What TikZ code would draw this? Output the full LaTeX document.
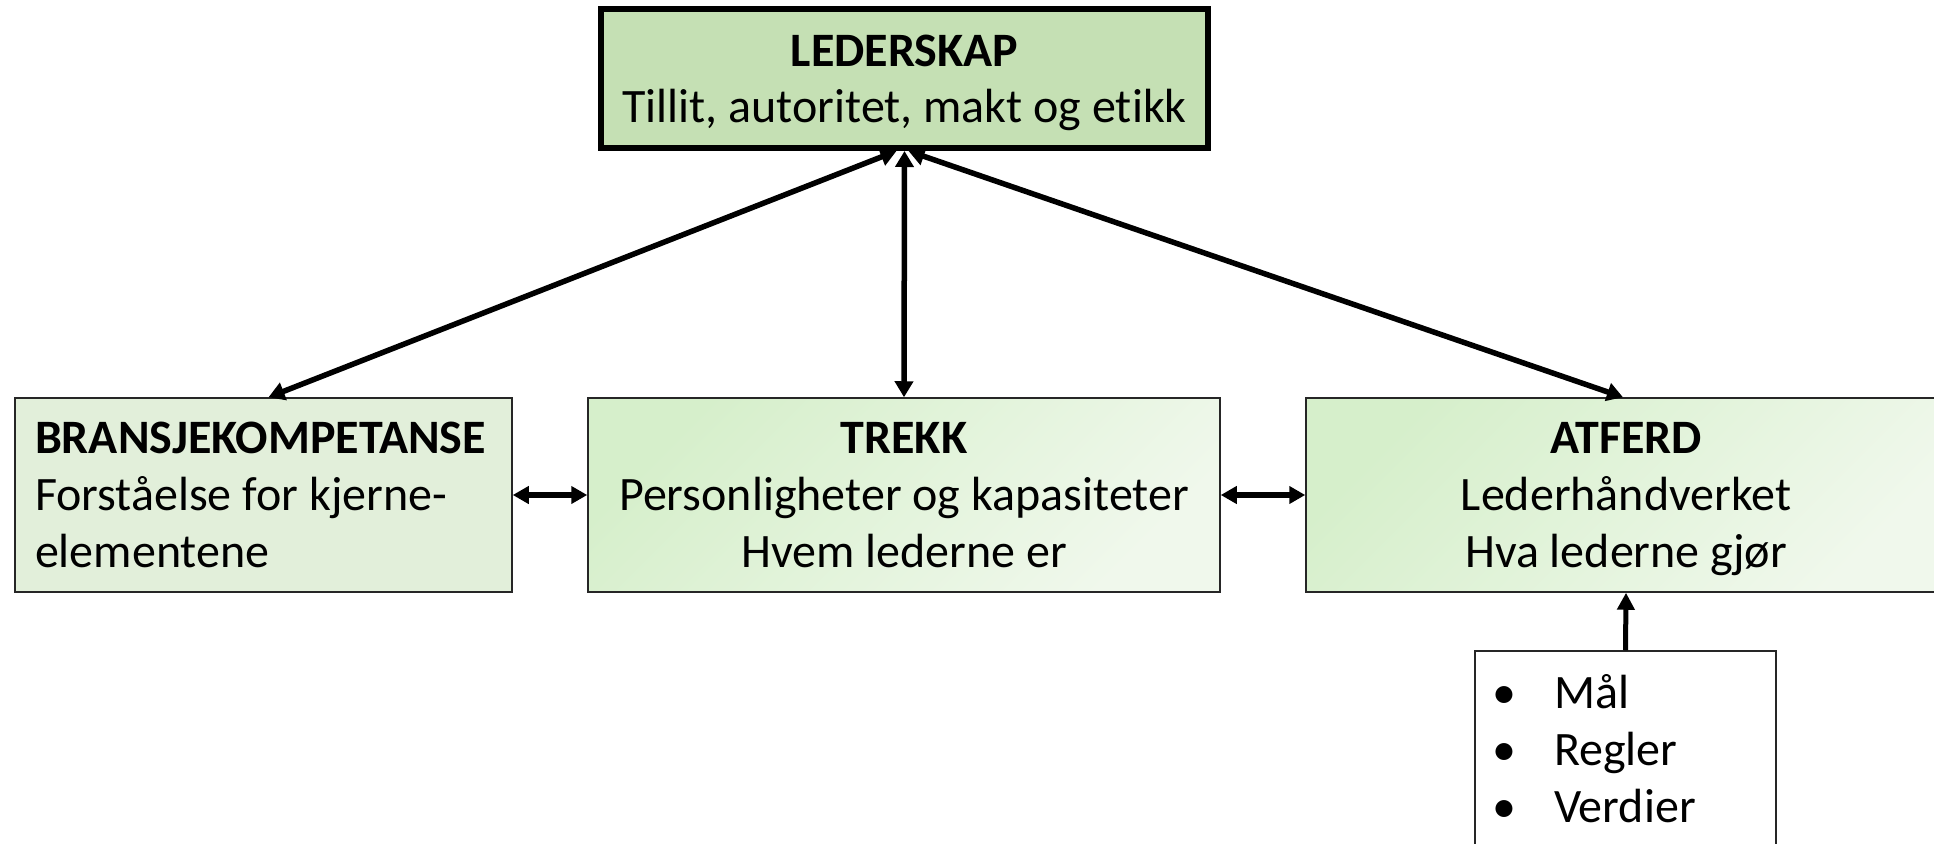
\documentclass[tikz,border=0pt]{standalone}
\usepackage{fontspec}
\setmainfont{Carlito}[RawFeature={-liga}]
\usetikzlibrary{arrows.meta,calc}
\definecolor{leadfill}{HTML}{C5E0B4}
\definecolor{branfill}{HTML}{E2EFDA}
\definecolor{gradA}{HTML}{D6EFCB}
\definecolor{gradB}{HTML}{F0F8EC}
\definecolor{edge}{HTML}{262626}
\tikzset{
  box/.style={draw=edge, line width=1.5pt, minimum height=194pt, font=\fontsize{48}{57}\selectfont, inner sep=0pt},
  gradbox/.style={box, left color=gradA, right color=gradB, shading angle=45},
  conn/.style={line width=5.5pt, {Triangle[length=16pt,width=18pt]}-{Triangle[length=16pt,width=18pt]}},
  shortconn/.style={line width=5.5pt, {Triangle[length=16pt,width=17pt]}-{Triangle[length=16pt,width=17pt]}},
  upconn/.style={line width=5pt, -{Triangle[length=17pt,width=17pt]}},
}
\begin{document}
\begin{tikzpicture}[x=1pt,y=-1pt]
\useasboundingbox (0,0) rectangle (1934,843);
\fill[white] (0,0) rectangle (1934,843);
\begin{scope}
\clip (0,0) rectangle (1934,843);
\node[draw=black, line width=6pt, fill=leadfill, minimum width=607pt, minimum height=139pt, inner sep=0pt,
      font=\fontsize{48}{56}\selectfont, align=center] (lead) at (904.5,78.5)
  {\rule{0pt}{41pt}\textbf{LEDERSKAP}\\Tillit, autoritet, makt og etikk};
\node[box, fill=branfill, minimum width=497pt, text width=457pt, align=flush left] (bran) at (263.5,495)
  {\textbf{BRANSJEKOMPETANSE}\\Forståelse for kjerne-\\elementene};
\node[gradbox, minimum width=632pt, align=center] (trekk) at (904,495)
  {\textbf{TREKK}\\Personligheter og kapasiteter\\Hvem lederne er};
\node[gradbox, minimum width=640pt, align=center] (atf) at (1626,495)
  {\textbf{ATFERD}\\Lederhåndverket\\\smash{Hva lederne gjør}};
\node[draw=edge, line width=1.5pt, fill=white, minimum width=301pt, minimum height=300pt, inner sep=0pt] (list) at (1625.5,801) {};
\node[font=\fontsize{48}{57}\selectfont, anchor=north west, align=left, inner sep=0pt] (items) at (1492,674)
  {\textbullet\hspace{38pt}Mål\\\textbullet\hspace{38pt}Regler\\\textbullet\hspace{38pt}Verdier};
\draw[conn] ($(lead.south)+(-8,0)$) -- ($(bran.north)+(5,0)$);
\draw[conn] (lead.south) -- (trekk.north);
\draw[conn] ($(lead.south)+(4,0)$) -- ($(atf.north)+(-3,0)$);
\draw[shortconn] (bran.east) -- (trekk.west);
\draw[shortconn] (trekk.east) -- (atf.west);
\draw[upconn] (list.north) -- (atf.south);
\end{scope}
\end{tikzpicture}
\end{document}
